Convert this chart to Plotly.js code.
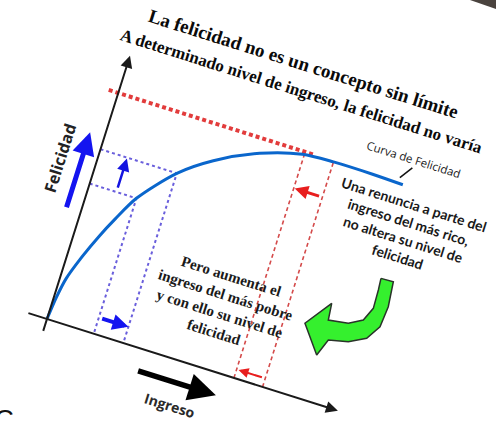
<!DOCTYPE html>
<html>
<head>
<meta charset="utf-8">
<script src="https://cdn.plot.ly/plotly-3.0.1.min.js"></script>
<style>
  html, body { margin:0; padding:0; width:496px; height:422px; overflow:hidden; background:#fff; }
  #chart { position:absolute; left:-13px; top:-21px; width:480px; height:400px;
           transform-origin:60px 340px; transform:rotate(17.5deg); }
  #corner { position:absolute; left:0; top:0; width:496px; height:30px;
            background:#4a433e;
            clip-path:polygon(470px 0, 496px 0, 496px 9px); }
  #stray { position:absolute; left:-5px; top:404px; font-family:"Liberation Sans",sans-serif;
           font-size:26px; line-height:30px; color:#111; }
</style>
</head>
<body>
<div id="corner"></div>
<div id="chart"></div>
<div id="stray">C</div>
<script>
// ---- data (local, unrotated diagram units) ----
const curveIngreso   = [0, 2.5, 6, 14, 25, 35, 49, 80, 111, 153, 194, 226, 267, 299];
const curveFelicidad = [0, 24, 44, 68, 95, 116, 142, 178, 201, 222, 234, 236, 236, 235];

const pobreIngreso   = [49, 80];     // incomes of the poorer person (before / after)
const pobreFelicidad = [142, 178];   // happiness at those incomes
const ricoIngreso    = [196, 226];   // incomes of the richer person (after / before)
const techoFelicidad = 237;          // happiness ceiling
const techoDesde     = -10;
const techoHasta     = 205;

const ejeX = [-21, 305];
const ejeY = [-14, 276];

// arrows: [tailU, tailV, headU, headV]
const flechaFelicidad = [-15, 111, -15, 191];
const flechaPobreV    = [28, 145, 28, 177];
const flechaPobreH    = [51, 17, 80, 17];
const flechaRicoArriba= [224, 199, 197, 199];
const flechaRicoAbajo = [224, 9, 198, 9];
const flechaIngreso   = [101, -22, 184, -22];
const guiaCurva       = [303, 254, 294, 241];

// green curved arrow outline
const verdeU = [306.3, 319.1, 321.8, 319.9, 310.7, 294.2, 274.6, 268, 247.3, 266.8, 268.6, 288.7, 302, 308, 307.3, 306.3];
const verdeV = [139.2, 139.7, 114.3, 92.8, 77.7, 69, 64.6, 46.8, 73.5, 100.6, 83.6, 86.5, 94.1, 108.3, 127.3, 139.2];

// texts
const titulo1 = "La felicidad no es un concepto sin límite";
const titulo2 = "A determinado nivel de ingreso, la felicidad no varía";
const etiquetaY = "Felicidad";
const etiquetaX = "Ingreso";
const etiquetaCurva = "Curva de Felicidad";
const textoRico = "Una renuncia a parte del<br>ingreso del más rico,<br>no altera su nivel de<br>felicidad";
const textoPobre = "Pero aumenta el<br>ingreso del más pobre<br>y con ello su nivel de<br>felicidad";

// ---- traces ----
const traces = [];
const blueDash = {color:'#6a5fdc', width:2, dash:'dot'};
const redDash  = {color:'#d44a4a', width:1.6, dash:'4px,3px'};

for (let i = 0; i < pobreIngreso.length; i++) {
  traces.push({x:[0, pobreIngreso[i], pobreIngreso[i]], y:[pobreFelicidad[i], pobreFelicidad[i], 0],
               mode:'lines', line:blueDash, hoverinfo:'skip'});
}
for (let i = 0; i < ricoIngreso.length; i++) {
  traces.push({x:[ricoIngreso[i], ricoIngreso[i]], y:[techoFelicidad - 2, 0],
               mode:'lines', line:redDash, hoverinfo:'skip'});
}
traces.push({x:[techoDesde, techoHasta], y:[techoFelicidad, techoFelicidad], mode:'lines',
             line:{color:'#e23c3c', width:4, dash:'4px,3px'}, hoverinfo:'skip'});
traces.push({x:curveIngreso, y:curveFelicidad, mode:'lines',
             line:{color:'#0a66cc', width:3, shape:'spline', smoothing:0.8}, hoverinfo:'skip'});
traces.push({x:verdeU, y:verdeV, mode:'lines', fill:'toself', fillcolor:'#35f02e',
             line:{color:'#2a332a', width:1.5}, hoverinfo:'skip'});
traces.push({x:[guiaCurva[0], guiaCurva[2]], y:[guiaCurva[1], guiaCurva[3]], mode:'lines',
             line:{color:'#111', width:1.5}, hoverinfo:'skip'});

function arrow(a, color, width, size, head) {
  return {x:a[2], y:a[3], ax:a[0], ay:a[1], xref:'x', yref:'y', axref:'x', ayref:'y',
          text:'', showarrow:true, arrowhead:head, arrowsize:size, arrowwidth:width, arrowcolor:color};
}

const annotations = [
  arrow([ejeX[0], 0, ejeX[1], 0], '#1a1a1a', 2, 1.2, 2),
  arrow([0, ejeY[0], 0, ejeY[1]], '#1a1a1a', 2, 1.2, 2),
  arrow(flechaFelicidad, '#1414f0', 5, 0.9, 2),
  arrow(flechaPobreV, '#1414e0', 2.5, 1, 2),
  arrow(flechaPobreH, '#1414f0', 4, 0.8, 2),
  arrow(flechaRicoArriba, '#e81e1e', 3, 0.9, 2),
  arrow(flechaRicoAbajo, '#e81e1e', 2, 1, 2),
  arrow(flechaIngreso, '#000', 5.5, 1, 2),
  {x:168, y:321, xref:'x', yref:'y', text:'<b>'+titulo1+'</b>', showarrow:false,
   font:{family:'Liberation Serif, serif', size:19, color:'#0a0a0a'}},
  {x:174, y:294, xref:'x', yref:'y', text:'<b>'+titulo2+'</b>', showarrow:false,
   font:{family:'Liberation Serif, serif', size:17, color:'#0a0a0a'}},
  {x:-36, y:157, xref:'x', yref:'y', text:'<b>'+etiquetaY+'</b>', showarrow:false, textangle:-90,
   font:{family:'Open Sans, sans-serif', size:16, color:'#222'}},
  {x:143, y:-45, xref:'x', yref:'y', text:'<b>'+etiquetaX+'</b>', showarrow:false,
   font:{family:'Open Sans, sans-serif', size:14, color:'#2a2a2a'}},
  {x:302, y:263, xref:'x', yref:'y', text:etiquetaCurva, showarrow:false,
   font:{family:'Open Sans, sans-serif', size:11.5, color:'#1a1a1a'}},
  {x:315, y:192, xref:'x', yref:'y', text:'<b>'+textoRico+'</b>', showarrow:false,
   font:{family:'Lato, sans-serif', size:14, color:'#1a1a1a'}},
  {x:163, y:67, xref:'x', yref:'y', text:'<b>'+textoPobre+'</b>', showarrow:false,
   font:{family:'Liberation Serif, serif', size:15, color:'#1a1a1a'}}
];

const layout = {
  width:480, height:400, autosize:false,
  margin:{l:0, r:0, t:0, b:0},
  paper_bgcolor:'rgba(0,0,0,0)', plot_bgcolor:'rgba(0,0,0,0)',
  showlegend:false,
  xaxis:{range:[-60, 420], visible:false, fixedrange:true},
  yaxis:{range:[-60, 340], visible:false, fixedrange:true},
  annotations:annotations
};

Plotly.newPlot('chart', traces, layout, {staticPlot:true, displayModeBar:false});
</script>
</body>
</html>
